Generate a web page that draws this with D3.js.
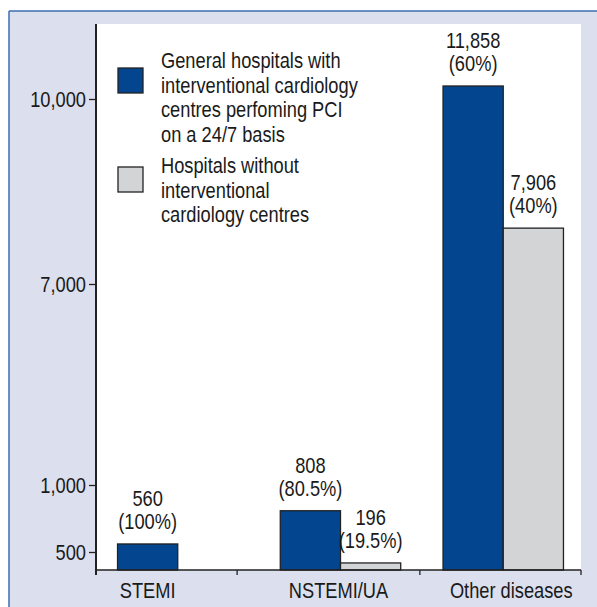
<!DOCTYPE html>
<html>
<head>
<meta charset="utf-8">
<script src="https://cdnjs.cloudflare.com/ajax/libs/d3/7.8.5/d3.min.js"></script>
<style>
  body { margin: 0; background: #fff; }
  text { font-family: "Liberation Sans", Arial, sans-serif; fill: #1a1a1a; font-size: 22px; }
</style>
</head>
<body>
<svg width="597" height="607"></svg>
<script>
// chart data
var categories = ["STEMI", "NSTEMI/UA", "Other diseases"];
var seriesNames = [
    ["General hospitals with", "interventional cardiology", "centres perfoming PCI", "on a 24/7 basis"],
    ["Hospitals without", "interventional", "cardiology centres"]
];
var withPCI = [560, 808, 11858];
var withoutPCI = [null, 196, 7906];
var withPCIPct = ["100%", "80.5%", "60%"];
var withoutPCIPct = [null, "19.5%", "40%"];
var yTicks = [500, 1000, 7000, 10000];

var colors = ["#03468f", "#d3d4d6"];
var squeeze = 0.83;   // condensed look

var svg = d3.select("svg");

// background panel
svg.append("rect").attr("x", 9).attr("y", 11).attr("width", 600).attr("height", 600)
    .attr("fill", "#dcdfee");
svg.append("line").attr("x1", 9).attr("x2", 597).attr("y1", 11).attr("y2", 11)
    .attr("stroke", "#3d6fb0").attr("stroke-width", 1.5);
svg.append("line").attr("x1", 9).attr("x2", 9).attr("y1", 11).attr("y2", 607)
    .attr("stroke", "#3d6fb0").attr("stroke-width", 1.5);

var pLeft = 96, pRight = 581, pTop = 24, pBottom = 570;

svg.append("rect").attr("x", pLeft).attr("y", pTop)
    .attr("width", pRight - pLeft).attr("height", pBottom - pTop)
    .attr("fill", "#fff");

// broken axis: piecewise linear
var y = d3.scaleLinear()
    .domain([0, 500, 1000, 7000, 10000, 12000])
    .range([pBottom, 552, 485, 284, 99, 85]);

var x0 = d3.scaleBand()
    .domain(categories)
    .range([pLeft, pRight])
    .paddingInner(0.26)
    .paddingOuter(0.12);

var x1 = d3.scaleBand()
    .domain([0, 1])
    .range([0, x0.bandwidth()]);

var rows = categories.map(function(c, i) {
    return [
        {cat: c, s: 0, v: withPCI[i], pct: withPCIPct[i]},
        {cat: c, s: 1, v: withoutPCI[i], pct: withoutPCIPct[i]}
    ].filter(function(d) { return d.v != null; });
});

var groups = svg.selectAll(".grp")
    .data(rows)
    .enter().append("g")
    .attr("class", "grp")
    .attr("transform", function(d, i) { return "translate(" + (x0(categories[i]) + 2) + ",0)"; });

groups.selectAll("rect")
    .data(function(d) { return d; })
    .enter().append("rect")
    .attr("x", function(d) { return x1(d.s); })
    .attr("y", function(d) { return y(d.v); })
    .attr("width", x1.bandwidth())
    .attr("height", function(d) { return pBottom - y(d.v); })
    .attr("fill", function(d) { return colors[d.s]; })
    .attr("stroke", "#222")
    .attr("stroke-width", 1.3);

var lbl = groups.selectAll(".val")
    .data(function(d) { return d; })
    .enter().append("text")
    .attr("class", "val")
    .attr("text-anchor", "middle")
    .attr("transform", function(d) {
        return "translate(" + (x1(d.s) + x1.bandwidth() / 2) + "," + y(d.v) + ") scale(" + squeeze + ",1)";
    });

lbl.append("tspan")
    .attr("x", 0)
    .attr("y", -38)
    .text(function(d) { return d3.format(",")(d.v); });
lbl.append("tspan")
    .attr("x", 0)
    .attr("y", -15)
    .text(function(d) { return "(" + d.pct + ")"; });

// y axis
var yAxis = svg.append("g")
    .attr("transform", "translate(" + pLeft + ",0)")
    .call(d3.axisLeft(y).tickValues(yTicks).tickFormat(d3.format(",")).tickSize(7).tickPadding(3));
yAxis.select(".domain").remove();
yAxis.selectAll("line").attr("stroke", "#222").attr("stroke-width", 1.3);
yAxis.selectAll("text")
    .attr("fill", "#1a1a1a")
    .attr("x", -10 / squeeze)
    .attr("transform", "scale(" + squeeze + ",1)")
    .style("font-size", "22px")
    .style("font-family", "'Liberation Sans', Arial, sans-serif");

svg.append("line").attr("x1", pLeft).attr("x2", pLeft).attr("y1", pTop).attr("y2", pBottom + 5)
    .attr("stroke", "#222").attr("stroke-width", 2);
svg.append("line").attr("x1", pLeft).attr("x2", pRight).attr("y1", pBottom).attr("y2", pBottom)
    .attr("stroke", "#222").attr("stroke-width", 1.5);

// x ticks between groups
var gap = x0.step() * x0.paddingInner() / 2;
var xTickPos = [pLeft, x0(categories[1]) - gap - 20, x0(categories[2]) - gap, pRight];
svg.selectAll(".xt")
    .data(xTickPos)
    .enter().append("line")
    .attr("x1", function(d) { return d; }).attr("x2", function(d) { return d; })
    .attr("y1", pBottom).attr("y2", pBottom + 5)
    .attr("stroke", "#222").attr("stroke-width", 1.3);

// category labels
svg.selectAll(".cat")
    .data(categories)
    .enter().append("text")
    .attr("text-anchor", "middle")
    .attr("transform", function(d, i) {
        var cx = i == 0 ? x0(d) + 2 + x1.bandwidth() / 2 : x0(d) + x0.bandwidth() / 2 + (i == 2 ? 10 : 0);
        return "translate(" + cx + ",598) scale(" + squeeze + ",1)";
    })
    .text(function(d) { return d; });

// legend
var legendY = [68, 167];
var legend = svg.selectAll(".leg")
    .data(seriesNames)
    .enter().append("g")
    .attr("transform", function(d, i) { return "translate(118," + legendY[i] + ")"; });

legend.append("rect")
    .attr("width", 25).attr("height", 25)
    .attr("fill", function(d, i) { return colors[i]; })
    .attr("stroke", "#222").attr("stroke-width", 1.3);

legend.append("text")
    .attr("transform", "translate(43,0) scale(" + squeeze + ",1)")
    .selectAll("tspan")
    .data(function(d, i) { return d.map(function(t) { return {t: t, first: i == 0}; }); })
    .enter().append("tspan")
    .attr("x", 0)
    .attr("y", function(d, j) { return (d.first ? 0 : 6) + j * 24.6; })
    .text(function(d) { return d.t; });
</script>
</body>
</html>
